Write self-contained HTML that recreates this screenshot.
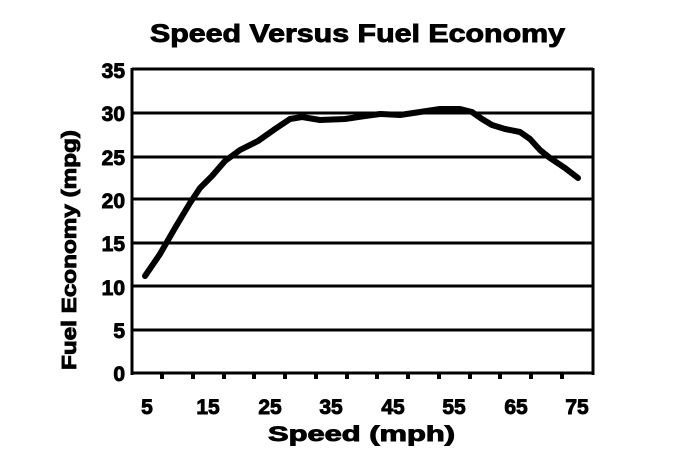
<!DOCTYPE html>
<html><head><meta charset="utf-8"><style>
html,body{margin:0;padding:0;background:#fff;}
svg{display:block;}
text{font-family:"Liberation Sans",sans-serif;font-weight:bold;fill:#000;stroke:#000;stroke-width:0.9;}
</style></head><body>
<svg width="688" height="466" viewBox="0 0 688 466">
<text x="150" y="42" font-size="25" textLength="415" lengthAdjust="spacingAndGlyphs">Speed Versus Fuel Economy</text>
<g stroke="#000" stroke-width="3">
<line x1="132" y1="69" x2="593" y2="69"/>
<line x1="132" y1="113" x2="593" y2="113"/>
<line x1="132" y1="157" x2="593" y2="157"/>
<line x1="132" y1="199" x2="593" y2="199"/>
<line x1="132" y1="243" x2="593" y2="243"/>
<line x1="132" y1="286" x2="593" y2="286"/>
<line x1="132" y1="330" x2="593" y2="330"/>
<line x1="132" y1="373" x2="593" y2="373"/>
<line x1="132" y1="68" x2="132" y2="375"/>
<line x1="593" y1="68" x2="593" y2="375"/>
</g>
<g stroke="#000" stroke-width="4">
<line x1="162" y1="373" x2="162" y2="379"/><line x1="193" y1="373" x2="193" y2="379"/>
<line x1="224" y1="373" x2="224" y2="379"/><line x1="254" y1="373" x2="254" y2="379"/>
<line x1="285" y1="373" x2="285" y2="379"/><line x1="316" y1="373" x2="316" y2="379"/>
<line x1="347" y1="373" x2="347" y2="379"/><line x1="377" y1="373" x2="377" y2="379"/>
<line x1="408" y1="373" x2="408" y2="379"/><line x1="439" y1="373" x2="439" y2="379"/>
<line x1="470" y1="373" x2="470" y2="379"/><line x1="500" y1="373" x2="500" y2="379"/>
<line x1="531" y1="373" x2="531" y2="379"/><line x1="562" y1="373" x2="562" y2="379"/>
</g>
<g font-size="21" text-anchor="end">
<text x="125" y="78">35</text><text x="125" y="121">30</text><text x="125" y="165">25</text>
<text x="125" y="208">20</text><text x="125" y="251">15</text><text x="125" y="295">10</text>
<text x="125" y="338">5</text><text x="125" y="381">0</text>
</g>
<g font-size="21" text-anchor="middle">
<text x="147" y="414">5</text><text x="208" y="414">15</text><text x="270" y="414">25</text>
<text x="331" y="414">35</text><text x="393" y="414">45</text><text x="454" y="414">55</text>
<text x="516" y="414">65</text><text x="577" y="414">75</text>
</g>
<text x="268" y="441" font-size="21" textLength="187" lengthAdjust="spacingAndGlyphs">Speed (mph)</text>
<text transform="translate(76,370) rotate(-90)" font-size="20" textLength="240" lengthAdjust="spacingAndGlyphs">Fuel Economy (mpg)</text>
<polyline fill="none" stroke="#000" stroke-width="6" stroke-linejoin="round" stroke-linecap="round"
points="145,276 160,254 175,228 190,203 200,188 212,176 225,161 240,150 258,141 275,129 290,119 302,117 320,120 345,119 365,116 380,114 400,115 420,112 440,109 460,109 472,112 482,119 492,125 505,129 520,132 530,139 540,150 550,158 565,168 578,178"/>
</svg>
</body></html>
